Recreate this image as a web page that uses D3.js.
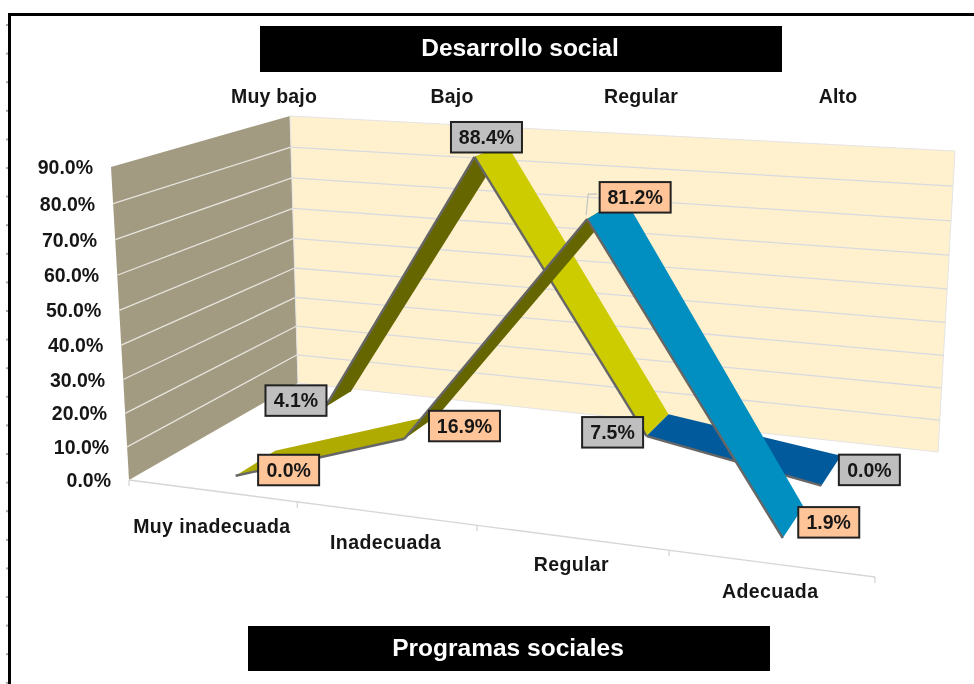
<!DOCTYPE html>
<html><head><meta charset="utf-8">
<script src="https://cdn.jsdelivr.net/npm/d3@7/dist/d3.min.js"></script>
<style>html,body{margin:0;padding:0;background:#fff}svg{display:block;filter:blur(0.35px)}text{font-family:"Liberation Sans",Arial,sans-serif;font-weight:bold}</style>
</head><body><svg id="c" width="974" height="684"></svg>
<script>
// ---- data ----
const chartTitle = "Desarrollo social";
const axisTitle = "Programas sociales";
const categories = ["Muy inadecuada","Inadecuada","Regular","Adecuada"];
const topLabels = ["Muy bajo","Bajo","Regular","Alto"];
const desarrollo = [4.1,88.4,7.5,0.0];
const programas = [0.0,16.9,81.2,1.9];
const valueTicks = [0,10,20,30,40,50,60,70,80,90];

// ---- layout & styles ----
const W=974,H=684;
const floorQuad=[[129,480],[875,577],[938,452],[298,383]];
const topQuad=[[111,167],[902,227],[955,151],[290,116]];
const seriesStyle=[
 {values:desarrollo,d0:[0.68,0.68,0.65,0.60],d1:[0.86,0.93,0.87,0.87],lean:[8,8],label:"#BFBFBF",seg:["#666600","#CCCC00","#005A9C"],
  off:[[-29,-7],[12,-20],[-34,-4],[48,-16]]},
 {values:programas,d0:[0.13,0.13,0.13,0.13],d1:[0.36,0.36,0.42,0.37],lean:[14,-6],label:"#FFC599",seg:["#AFAB00","#666600","#008FC0"],
  off:[[53,-6],[60,-13],[48,-22],[46,-16]]}
];
const catDy=[42,36,33,35];
const topX=[274,452,641,838];

// ---- projection ----
function homography(q){
 const [[x0,y0],[x1,y1],[x2,y2],[x3,y3]]=q;
 const dx1=x1-x2,dx2=x3-x2,sx=x0-x1+x2-x3,dy1=y1-y2,dy2=y3-y2,sy=y0-y1+y2-y3;
 const det=dx1*dy2-dx2*dy1,g=(sx*dy2-dx2*sy)/det,h=(dx1*sy-sx*dy1)/det;
 const a=x1-x0+g*x1,b=x3-x0+h*x3,d=y1-y0+g*y1,e=y3-y0+h*y3;
 return (u,v)=>{const w=g*u+h*v+1;return [(a*u+b*v+x0)/w,(d*u+e*v+y0)/w];};
}
const floorH=homography(floorQuad),topH=homography(topQuad);
const uBand=d3.scaleBand().domain(d3.range(categories.length)).range([0,1]);
const uOf=i=>uBand(i)+uBand.bandwidth()/2;
const vScale=d3.scaleLinear().domain([0,90]).range([0,1]);
const persp=h=>h*0.9455/(1+(0.9455-1)*h);
function project(u,d,val,lean){
 const f=floorH(u,d),t=topH(u,d),k=persp(vScale(val)),l=lean||[0,0];
 return [f[0]+(t[0]-f[0])*k+l[0]*k,f[1]+(t[1]-f[1])*k+l[1]*k];
}
const line=d3.line();
const svg=d3.select("#c");

// frame
svg.append("g").selectAll("rect").data(d3.range(24,684,28.6)).join("rect")
 .attr("x",6).attr("y",d=>d).attr("width",2).attr("height",2).attr("fill","#AAA");
svg.append("rect").attr("x",9.5).attr("y",14.5).attr("width",W).attr("height",H).attr("fill","none").attr("stroke","#000").attr("stroke-width",3);

// walls
svg.append("path").attr("fill","#A39A82").attr("d",line([[0,0],[0,1],[0,1,1],[0,0,1]].map(p=>project(p[0],p[1],p[2]?90:0)))+"Z");
svg.append("path").attr("fill","#FFF1CD").attr("stroke","#E4E4E4").attr("stroke-width",1)
 .attr("d",line([[0,1,0],[1,1,0],[1,1,90],[0,1,90]].map(p=>project(p[0],p[1],p[2])))+"Z");
// gridlines
const grid=svg.append("g").attr("fill","none");
valueTicks.slice(1,-1).forEach(v=>{
 grid.append("path").attr("stroke","#E6E4DC").attr("stroke-width",1.3).attr("d",line([project(0,0,v),project(0,1,v)]));
 grid.append("path").attr("stroke","#D9DAE0").attr("stroke-width",1.3).attr("d",line([project(0,1,v),project(1,1,v)]));
});
// floor axis
const axisG=svg.append("g").attr("stroke","#D6D6D6").attr("stroke-width",1.3).attr("fill","none");
axisG.append("path").attr("d",line([project(0,0,0),project(1,0,0)]));
d3.range(0,categories.length+1).forEach(i=>{
 const p=project(i/categories.length,0,0);
 axisG.append("path").attr("d",line([p,[p[0],p[1]+6]]));
});
// value labels
svg.append("g").selectAll("text").data(valueTicks).join("text")
 .attr("x",v=>project(0,0,v)[0]-18).attr("y",v=>project(0,0,v)[1]+7)
 .attr("text-anchor","end").attr("font-size",19.5).attr("fill","#161616")
 .text(v=>d3.format(".1f")(v)+"%");
// category labels
svg.append("g").selectAll("text").data(categories).join("text")
 .attr("x",(c,i)=>project(uOf(i),0,0)[0]).attr("y",(c,i)=>project(uOf(i),0,0)[1]+catDy[i])
 .attr("text-anchor","middle").attr("font-size",19.5).attr("letter-spacing",0.4).attr("fill","#161616").text(c=>c);
// top labels
svg.append("g").selectAll("text").data(topLabels).join("text")
 .attr("x",(c,i)=>topX[i]).attr("y",103).attr("text-anchor","middle").attr("font-size",19.5).attr("letter-spacing",0.2).attr("fill","#161616").text(c=>c);

// ribbons
seriesStyle.forEach(s=>{
 const g=svg.append("g");
 d3.range(s.values.length-1).forEach(i=>{
  const a0=project(uOf(i),s.d0[i],s.values[i],s.lean),a1=project(uOf(i),s.d1[i],s.values[i],s.lean),
        b1=project(uOf(i+1),s.d1[i+1],s.values[i+1],s.lean),b0=project(uOf(i+1),s.d0[i+1],s.values[i+1],s.lean);
  g.append("path").attr("fill",s.seg[i]).attr("d",line([a0,a1,b1,b0])+"Z");
  g.append("path").attr("fill","none").attr("stroke","#666").attr("stroke-width",2.4).attr("d",line([a0,b0]));
 });
});
// leader
const lp=project(uOf(2),seriesStyle[1].d0[2],programas[2],seriesStyle[1].lean);
svg.append("path").attr("fill","none").attr("stroke","#C4C4C4").attr("stroke-width",1.2)
 .attr("d",line([[lp[0]-1,lp[1]-4],[lp[0]+1,lp[1]-25],[lp[0]+10,lp[1]-25]]));
// data labels
seriesStyle.forEach(s=>{
 s.values.forEach((v,i)=>{
  const p=project(uOf(i),s.d0[i],v,s.lean),cx=p[0]+s.off[i][0],cy=p[1]+s.off[i][1];
  const w=d3.format(".1f")(v).length>3?71:61;
  svg.append("rect").attr("x",cx-w/2).attr("y",cy-15).attr("width",w).attr("height",30.5)
   .attr("fill",s.label).attr("stroke","#222").attr("stroke-width",2);
  svg.append("text").attr("x",cx).attr("y",cy+7).attr("text-anchor","middle").attr("font-size",19.5).attr("fill","#161616").text(d3.format(".1f")(v)+"%");
 });
});
// title bars
[[260,26,522,46,chartTitle,56],[248,626,522,45,axisTitle,656]].forEach(b=>{
 svg.append("rect").attr("x",b[0]).attr("y",b[1]).attr("width",b[2]).attr("height",b[3]).attr("fill","#000");
 svg.append("text").attr("x",b[0]+b[2]/2-1).attr("y",b[5]).attr("text-anchor","middle").attr("font-size",24.5).attr("fill","#fff").text(b[4]);
});
</script></body></html>
